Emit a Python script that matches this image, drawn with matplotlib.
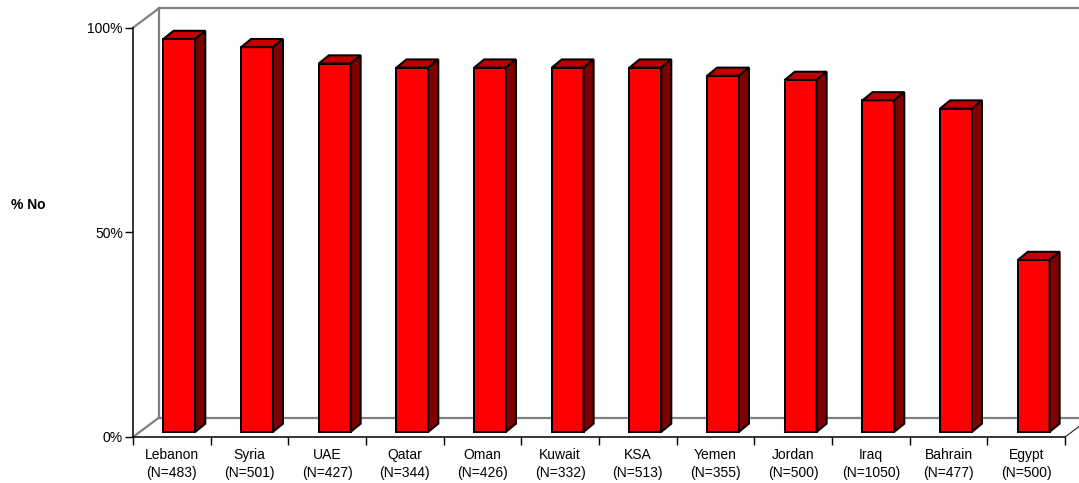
import matplotlib
matplotlib.use("Agg")
import matplotlib.pyplot as plt
from matplotlib.patches import Polygon
import numpy as np

countries = ["Lebanon", "Syria", "UAE", "Qatar", "Oman", "Kuwait",
             "KSA", "Yemen", "Jordan", "Iraq", "Bahrain", "Egypt"]
sample_sizes = [483, 501, 427, 344, 426, 332, 513, 355, 500, 1050, 477, 500]
pct_no = [96, 94, 90, 89, 89, 89, 89, 87, 86, 81, 79, 42]
y_ticks = [0, 50, 100]
y_tick_labels = ["0%", "50%", "100%"]

plt.rcParams['font.family'] = ['Liberation Sans', 'DejaVu Sans']

W, H = 1079, 483
fig = plt.figure(figsize=(W / 100, H / 100), dpi=100)
ax = fig.add_axes([133 / W, 46 / H, 932 / W, 409.3 / H])
ax.set_xlim(-0.5, 11.5)
ax.set_ylim(0, 100)

# oblique depth of the chart box and of each bar (data units)
WALL_DX, WALL_DY = 0.335, 4.74
BAR_OFF_X, BAR_OFF_Y = 0.097, 1.25
BAR_DX, BAR_DY = 0.129, 2.0
BAR_W = 0.41
EDGE_LW = 1.45

FRONT = "#FF0000"
TOP = "#C00000"
SIDE = "#800000"
GRID = "#808080"

# back wall and floor outline
x0 = -0.5
xb = x0 + WALL_DX
far = 13
wall_kw = dict(color=GRID, lw=1.6, clip_on=False, zorder=1, solid_capstyle="projecting")
ax.plot([xb, xb], [WALL_DY, 100 + WALL_DY], **wall_kw)
ax.plot([xb, far], [100 + WALL_DY, 100 + WALL_DY], **wall_kw)
ax.plot([xb, far], [WALL_DY, WALL_DY], **wall_kw)
ax.plot([x0, xb], [100, 100 + WALL_DY], **wall_kw)
ax.plot([x0, xb], [0, WALL_DY], **wall_kw)
ax.plot([11.5, 11.5 + WALL_DX], [0, WALL_DY], color="#202020", lw=0.8,
        clip_on=False, zorder=1)

# bars: front face, top and side
x = np.arange(len(countries))
ax.bar(x + BAR_OFF_X, pct_no, width=BAR_W, bottom=BAR_OFF_Y, color=FRONT,
       edgecolor="black", linewidth=EDGE_LW, zorder=3, clip_on=False)
for xi, v in zip(x, pct_no):
    left = xi + BAR_OFF_X - BAR_W / 2
    right = xi + BAR_OFF_X + BAR_W / 2
    top = v + BAR_OFF_Y
    base = BAR_OFF_Y
    top_face = [(left, top), (right, top),
                (right + BAR_DX, top + BAR_DY), (left + BAR_DX, top + BAR_DY)]
    side_face = [(right, base), (right + BAR_DX, base + BAR_DY),
                 (right + BAR_DX, top + BAR_DY), (right, top)]
    ax.add_patch(Polygon(top_face, closed=True, facecolor=TOP, edgecolor="black",
                         linewidth=EDGE_LW, joinstyle="miter", zorder=3, clip_on=False))
    ax.add_patch(Polygon(side_face, closed=True, facecolor=SIDE, edgecolor="black",
                         linewidth=EDGE_LW, joinstyle="miter", zorder=3, clip_on=False))

# axes
for s in ["top", "right"]:
    ax.spines[s].set_visible(False)
for s in ["left", "bottom"]:
    ax.spines[s].set_color("black")
    ax.spines[s].set_linewidth(1.1)

ax.set_yticks(y_ticks)
ax.set_yticklabels(y_tick_labels)
ax.tick_params(axis="y", direction="out", length=5.8, width=1, pad=1.5,
               labelsize=10, colors="black")

ax.set_xticks(np.arange(-0.5, len(countries), 1))
ax.set_xticklabels([])
ax.set_xticks(x, minor=True)
ax.set_xticklabels([f"{c}\n(N={n})" for c, n in zip(countries, sample_sizes)],
                   minor=True, linespacing=1.35)
ax.tick_params(axis="x", which="major", direction="out", length=5.8, width=1)
ax.tick_params(axis="x", which="minor", length=0, pad=8, labelsize=10)

fig.text(28 / W, 1 - 205 / H, "% No", ha="center", va="center",
         fontsize=10, fontweight="bold")

fig.savefig("out.png", dpi=100)
